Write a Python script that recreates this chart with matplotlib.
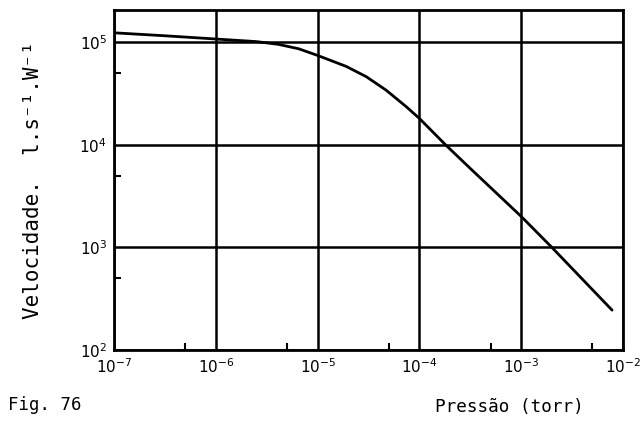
import matplotlib
matplotlib.use("Agg")
import matplotlib.pyplot as plt
from matplotlib.ticker import FixedLocator, FixedFormatter, NullFormatter

# Pumping speed vs pressure (log-log)
pressure = [1e-7, 3.2e-7, 1e-6, 2.5e-6, 4.1e-6, 6.5e-6, 1e-5, 1.9e-5, 3e-5,
            4.7e-5, 7.4e-5, 1e-4, 1.8e-4, 3.2e-4, 1e-3, 2e-3, 7.8e-3]
speed = [1.23e5, 1.15e5, 1.07e5, 1.01e5, 9.5e4, 8.6e4, 7.4e4, 5.8e4, 4.6e4,
         3.4e4, 2.35e4, 1.8e4, 1.0e4, 5.8e3, 2.0e3, 1.0e3, 2.45e2]

x_ticks = [1e-7, 1e-6, 1e-5, 1e-4, 1e-3, 1e-2]
x_labels = [r"$10^{-7}$", r"$10^{-6}$", r"$10^{-5}$", r"$10^{-4}$", r"$10^{-3}$", r"$10^{-2}$"]
y_ticks = [1e2, 1e3, 1e4, 1e5]
y_labels = [r"$10^{2}$", r"$10^{3}$", r"$10^{4}$", r"$10^{5}$"]
x_minor = [5e-7, 5e-6, 5e-5, 5e-4, 5e-3]
y_minor = [5e2, 5e3, 5e4]

mono = "DejaVu Sans Mono"

fig = plt.figure(figsize=(6.41, 4.36), dpi=100)
ax = fig.add_axes([0.178, 0.197, 0.794, 0.780])
ax.set_xscale("log")
ax.set_yscale("log")
ax.set_xlim(1e-7, 1e-2)
ax.set_ylim(1e2, 2.05e5)

ax.plot(pressure, speed, color="black", lw=2.0, solid_capstyle="round",
        solid_joinstyle="round")

ax.xaxis.set_major_locator(FixedLocator(x_ticks))
ax.xaxis.set_major_formatter(FixedFormatter(x_labels))
ax.yaxis.set_major_locator(FixedLocator(y_ticks))
ax.yaxis.set_major_formatter(FixedFormatter(y_labels))
ax.xaxis.set_minor_locator(FixedLocator(x_minor))
ax.yaxis.set_minor_locator(FixedLocator(y_minor))
ax.xaxis.set_minor_formatter(NullFormatter())
ax.yaxis.set_minor_formatter(NullFormatter())

ax.tick_params(which="major", length=0, labelsize=11, pad=5)
ax.tick_params(which="minor", direction="in", length=5, width=1.5, color="black")

ax.grid(True, which="major", color="black", lw=1.8)
for s in ax.spines.values():
    s.set_linewidth(2.0)

ax.set_ylabel("Velocidade.  l.s⁻¹.W⁻¹", family=mono, fontsize=15, labelpad=26)

fig.text(0.012, 0.072, "Fig. 76", family=mono, fontsize=12.5, ha="left", va="center")
fig.text(0.91, 0.067, "Pressão (torr)", family=mono, fontsize=12.7, ha="right", va="center")

fig.savefig("out.png", dpi=100)
